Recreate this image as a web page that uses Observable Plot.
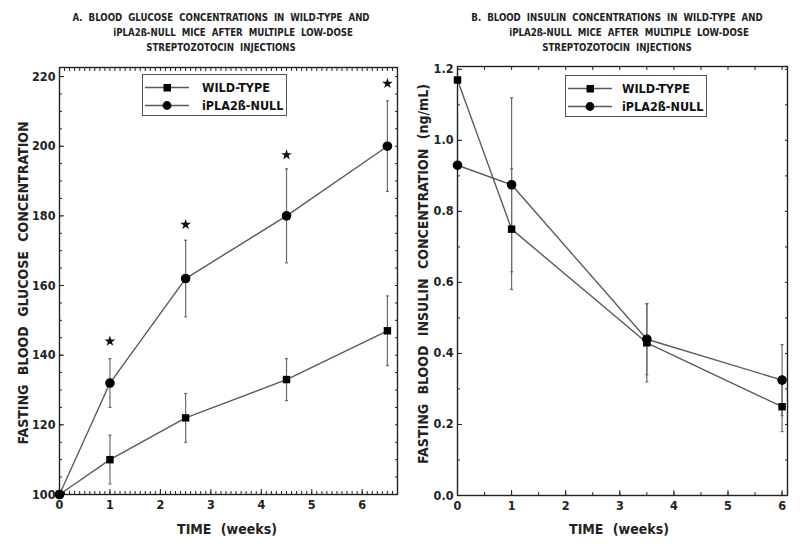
<!DOCTYPE html>
<html>
<head>
<meta charset="utf-8">
<script src="https://cdn.jsdelivr.net/npm/d3@7"></script>
<script src="https://cdn.jsdelivr.net/npm/@observablehq/plot@0.6"></script>
<style>
  html, body { margin: 0; padding: 0; background: #fff; }
  body { width: 800px; height: 544px; overflow: hidden; }
  #wrap { display: flex; width: 800px; }
  .panel { position: relative; width: 400px; height: 544px; }
  .title { height: 60px; box-sizing: border-box; padding-top: 10px; text-align: center; white-space: nowrap;
    font-family: "Liberation Sans Narrow", "DejaVu Sans Condensed", "Arial Narrow", sans-serif;
    font-weight: bold; font-size: 9.6px; line-height: 15px; color: #222; word-spacing: 0px; }
  #pA .title { padding-left: 42px; }
  #pB .title { padding-left: 34px; }
  .ylab, .xlab { position: absolute; white-space: nowrap; color: #222;
    font-family: "Liberation Sans Narrow", "DejaVu Sans Condensed", "Arial Narrow", sans-serif;
    font-weight: bold; font-size: 14px; word-spacing: 5px; }
  .ylab { transform: translate(-50%, -50%) rotate(-90deg); }
  .xlab { transform: translate(-50%, -50%); }
  .legend { position: absolute; border: 1.3px solid #555; background: #fff; box-sizing: border-box;
    font-family: "Liberation Sans Narrow", "DejaVu Sans Condensed", "Arial Narrow", sans-serif;
    font-weight: bold; font-size: 12.5px; color: #111; white-space: nowrap; }
  .legend .row { position: absolute; left: 0; height: 18px; display: flex; align-items: center; white-space: nowrap; }
  .legend svg { display: block; flex: none; }
  svg text { font-family: "Liberation Sans Narrow", "DejaVu Sans Condensed", "Arial Narrow", sans-serif; }
</style>
</head>
<body>
<div id="wrap">
  <div class="panel" id="pA">
    <div class="title">A.&nbsp; BLOOD&nbsp; GLUCOSE&nbsp; CONCENTRATIONS&nbsp; IN&nbsp; WILD-TYPE&nbsp; AND<br>&nbsp;&nbsp;&nbsp;&nbsp;&nbsp;&nbsp;&nbsp;&nbsp;iPLA2ß-NULL&nbsp; MICE&nbsp; AFTER&nbsp; MULTIPLE&nbsp; LOW-DOSE<br>STREPTOZOTOCIN&nbsp; INJECTIONS</div>
  </div>
  <div class="panel" id="pB">
    <div class="title">B.&nbsp; BLOOD&nbsp; INSULIN&nbsp; CONCENTRATIONS&nbsp; IN&nbsp; WILD-TYPE&nbsp; AND<br>&nbsp;&nbsp;&nbsp;&nbsp;&nbsp;&nbsp;&nbsp;&nbsp;iPLA2ß-NULL&nbsp; MICE&nbsp; AFTER&nbsp; MULTIPLE&nbsp; LOW-DOSE<br>STREPTOZOTOCIN&nbsp; INJECTIONS</div>
  </div>
</div>
<script>
// ---------- Data ----------
const seriesNames = ["WILD-TYPE", "iPLA2ß-NULL"];

// Panel A: fasting blood glucose
const weeksA = [0, 1, 2.5, 4.5, 6.5];
const glucoseWT = [100, 110, 122, 133, 147];
const glucoseWTErr = [0, 7, 7, 6, 10];
const glucoseNull = [100, 132, 162, 180, 200];
const glucoseNullErr = [0, 7, 11, 13.5, 13];
const starWeeksA = [1, 2.5, 4.5, 6.5];
const starYA = [144, 177.5, 197.5, 218];
const yTicksA = [100, 120, 140, 160, 180, 200, 220];
const xTicksA = [0, 1, 2, 3, 4, 5, 6];

// Panel B: fasting blood insulin (ng/mL)
const weeksB = [0, 1, 3.5, 6];
const insulinWT = [1.17, 0.75, 0.43, 0.25];
const insulinWTErr = [0, 0.17, 0.11, 0.07];
const insulinNull = [0.93, 0.875, 0.44, 0.325];
const insulinNullErr = [0, 0.245, 0.1, 0.1];
const yTicksB = [0, 0.2, 0.4, 0.6, 0.8, 1.0, 1.2];
const xTicksB = [0, 1, 2, 3, 4, 5, 6];

// ---------- Helpers ----------
function rows(weeks, wt, wtErr, nul, nulErr) {
  const out = [];
  weeks.forEach((w, i) => out.push({series: seriesNames[0], x: w, y: wt[i], lo: wt[i] - wtErr[i], hi: wt[i] + wtErr[i], err: wtErr[i]}));
  weeks.forEach((w, i) => out.push({series: seriesNames[1], x: w, y: nul[i], lo: nul[i] - nulErr[i], hi: nul[i] + nulErr[i], err: nulErr[i]}));
  return out;
}
const capSymbol = { draw(ctx, size) { const w = Math.sqrt(size) / 2; ctx.moveTo(-w, 0); ctx.lineTo(w, 0); } };

const ink = "#222";
const lineCol = "#5a5a5a";
const errCol = "#6a6a6a";

function panel({data, xDomain, yDomain, xTicks, yTicks, xMinor, yMinor, yFmt, stars, width, height, margins}) {
  const withErr = data.filter(d => d.err > 0);
  const marks = [
    Plot.axisX({ticks: xMinor, tickSize: -3, tickPadding: 0, text: null, stroke: ink, anchor: "bottom", label: null}),
    Plot.axisX({ticks: xMinor, tickSize: -3, tickPadding: 0, text: null, stroke: ink, anchor: "top", label: null}),
    Plot.axisY({ticks: yMinor, tickSize: -3, tickPadding: 0, text: null, stroke: ink, anchor: "left", label: null}),
    Plot.axisY({ticks: yMinor, tickSize: -3, tickPadding: 0, text: null, stroke: ink, anchor: "right", label: null}),
    Plot.axisX({ticks: xTicks, tickSize: -5, tickPadding: 11, anchor: "bottom", label: null, stroke: ink,
      fill: ink, fontSize: 12.5, fontWeight: "bold", tickFormat: d3.format("d")}),
    Plot.axisY({ticks: yTicks, tickSize: -5, tickPadding: 9, anchor: "left", label: null, stroke: ink,
      fill: ink, fontSize: 12.5, fontWeight: "bold", tickFormat: yFmt}),
    Plot.frame({stroke: ink, strokeWidth: 1.4}),
    Plot.ruleX(withErr, {x: "x", y1: "lo", y2: "hi", stroke: errCol, strokeWidth: 1.2}),
    Plot.dot(withErr, {x: "x", y: "lo", symbol: capSymbol, r: 1.7, stroke: errCol, strokeWidth: 1.2}),
    Plot.dot(withErr, {x: "x", y: "hi", symbol: capSymbol, r: 1.7, stroke: errCol, strokeWidth: 1.2}),
    Plot.line(data, {x: "x", y: "y", z: "series", stroke: lineCol, strokeWidth: 1.4}),
    Plot.dot(data.filter(d => d.series === seriesNames[1]), {x: "x", y: "y", symbol: "circle", r: 4.8, fill: "#000", stroke: "none"}),
    Plot.dot(data.filter(d => d.series === seriesNames[0]), {x: "x", y: "y", symbol: "square", r: 4.2, fill: "#000", stroke: "none"})
  ];
  if (stars) marks.push(Plot.dot(stars, {x: "x", y: "y", symbol: "star", r: 3.4, fill: "#111", stroke: "none"}));
  return Plot.plot({
    width, height,
    marginLeft: margins[0], marginRight: margins[1], marginTop: margins[2], marginBottom: margins[3],
    style: {background: "#fff", color: ink, overflow: "visible"},
    x: {domain: xDomain, axis: null},
    y: {domain: yDomain, axis: null},
    marks
  });
}

// ---------- Panel A ----------
const dataA = rows(weeksA, glucoseWT, glucoseWTErr, glucoseNull, glucoseNullErr);
const starsA = starWeeksA.map((w, i) => ({x: w, y: starYA[i]}));
const plotA = panel({
  data: dataA, xDomain: [0, 6.7], yDomain: [100, 222.6],
  xTicks: xTicksA, yTicks: yTicksA,
  xMinor: d3.range(0, 6.7001, 0.1).map(v => +v.toFixed(1)), yMinor: d3.range(100, 223, 5),
  yFmt: d3.format("d"), stars: starsA,
  width: 400, height: 484, margins: [59, 3, 7, 50]
});
document.getElementById("pA").appendChild(plotA);

// ---------- Panel B ----------
const dataB = rows(weeksB, insulinWT, insulinWTErr, insulinNull, insulinNullErr);
const plotB = panel({
  data: dataB, xDomain: [0, 6.1], yDomain: [0, 1.208],
  xTicks: xTicksB, yTicks: yTicksB,
  xMinor: d3.range(0, 6.1, 0.5), yMinor: d3.range(0, 1.21, 0.1).map(v => +v.toFixed(1)),
  yFmt: d3.format(".1f"), stars: null,
  width: 400, height: 484, margins: [57, 13, 6, 49]
});
document.getElementById("pB").appendChild(plotB);

// ---------- Axis titles and legends (HTML overlays) ----------
function addLabel(panelId, cls, text, left, top) {
  const el = document.createElement("div");
  el.className = cls; el.textContent = text;
  el.style.left = left + "px"; el.style.top = top + "px";
  document.getElementById(panelId).appendChild(el);
}
addLabel("pA", "ylab", "FASTING BLOOD GLUCOSE CONCENTRATION", 23, 283);
addLabel("pA", "xlab", "TIME (weeks)", 227, 529);
addLabel("pB", "ylab", "FASTING BLOOD INSULIN CONCENTRATION (ng/mL)", 23, 274);
addLabel("pB", "xlab", "TIME (weeks)", 219, 529);

function legendSym(kind) {
  const s = kind === "square"
    ? `<rect x="18.5" y="5" width="7.5" height="7.5" fill="#000"/>`
    : `<circle cx="22" cy="8.5" r="4.4" fill="#000"/>`;
  return `<svg width="44" height="17"><line x1="0" x2="44" y1="8.5" y2="8.5" stroke="${lineCol}" stroke-width="1.3"/>${s}</svg>`;
}
function addLegend(panelId, left, top, w, h, symLeft, textGap) {
  const lg = document.createElement("div");
  lg.className = "legend";
  Object.assign(lg.style, {left: left + "px", top: top + "px", width: w + "px", height: h + "px"});
  const kinds = ["square", "circle"];
  seriesNames.forEach((name, i) => {
    const r = document.createElement("div");
    r.className = "row";
    r.style.top = (3 + i * 18.5) + "px";
    r.style.left = symLeft + "px";
    r.innerHTML = legendSym(kinds[i]) + `<span style="margin-left:${textGap}px">${name}</span>`;
    lg.appendChild(r);
  });
  document.getElementById(panelId).appendChild(lg);
}
addLegend("pA", 142, 74, 145, 42, 2, 13);
addLegend("pB", 165, 75, 142, 42, 2, 10);
</script>
</body>
</html>
